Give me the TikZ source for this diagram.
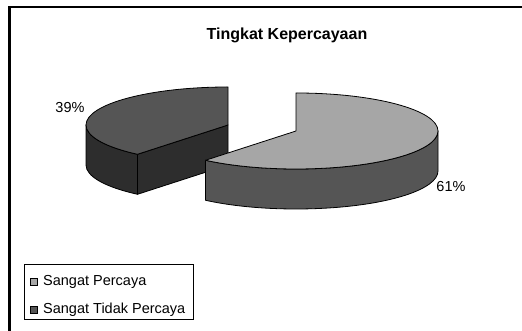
\documentclass[tikz,border=0pt]{standalone}
\usepackage{fontspec}
\setmainfont{Liberation Sans}
\usepackage{tikz}
\usepackage{xcolor}
\definecolor{slicelight}{RGB}{166,166,166}
\definecolor{slicedark}{RGB}{85,85,85}
\definecolor{sidedark}{RGB}{45,45,45}

\tikzset{
	slice/.style={draw=black, line width=0.8pt, line join=round},
	pct/.style={font=\fontsize{14.5}{17}\selectfont, inner sep=0pt, anchor=base},
	keybox/.style={draw=black, line width=0.8pt, minimum size=7pt, inner sep=0pt, anchor=south west},
	keytext/.style={font=\fontsize{14.5}{17}\selectfont, inner sep=0pt, anchor=base west}
}

\begin{document}
\begin{tikzpicture}[x=1pt, y=1pt]
	\useasboundingbox (0,0) rectangle (522,331);
	\draw[line width=2.2pt] (9.5,0) -- (9.5,324) -- (522,324);
	
	\node[font=\bfseries\fontsize{16}{19}\selectfont, inner sep=0pt, anchor=base] (title) at (287,291) {Tingkat Kepercayaan};
	
	% pulled out slice (39%)
	\coordinate (darkc) at (228,206);
	\coordinate (darkp) at (137.5,176.7);
	\draw[slice, fill=sidedark] (86,206) arc[start angle=180, end angle=230.4, x radius=142pt, y radius=38pt] -- ++(0,-40) arc[start angle=230.4, end angle=180, x radius=142pt, y radius=38pt] -- cycle;
	\draw[slice, fill=sidedark] (darkp) -- (darkc) -- ++(0,-40) -- ++(-90.5,-29.3) -- cycle;
	\draw[slice, fill=slicedark] (darkc) -- ++(0,38) arc[start angle=90, end angle=230.4, x radius=142pt, y radius=38pt] -- cycle;
	
	% big slice (61%)
	\coordinate (lightc) at (296,200);
	\draw[slice, fill=slicedark] (438,200) arc[start angle=0, end angle=-129.6, x radius=142pt, y radius=38pt] -- ++(0,-40) arc[start angle=-129.6, end angle=0, x radius=142pt, y radius=38pt] -- cycle;
	\draw[slice, fill=slicelight] (lightc) -- ++(0,38) arc[start angle=90, end angle=-129.6, x radius=142pt, y radius=38pt] -- cycle;
	
	\node[pct] (lab39) at (70,218) {39\%};
	\node[pct] (lab61) at (451,139.5) {61\%};
	
	% legend
	\node[draw, line width=0.8pt, minimum width=169pt, minimum height=55pt, inner sep=0pt] (legend) at (108.5,39.5) {};
	\node[keybox, fill=slicelight] (key1) at (29.5,45.5) {};
	\node[keytext] (key1text) at (43,45) {Sangat Percaya};
	\node[keybox, fill=slicedark] (key2) at (29.5,17.5) {};
	\node[keytext] (key2text) at (43,17) {Sangat Tidak Percaya};
	
\end{tikzpicture}
\end{document}
